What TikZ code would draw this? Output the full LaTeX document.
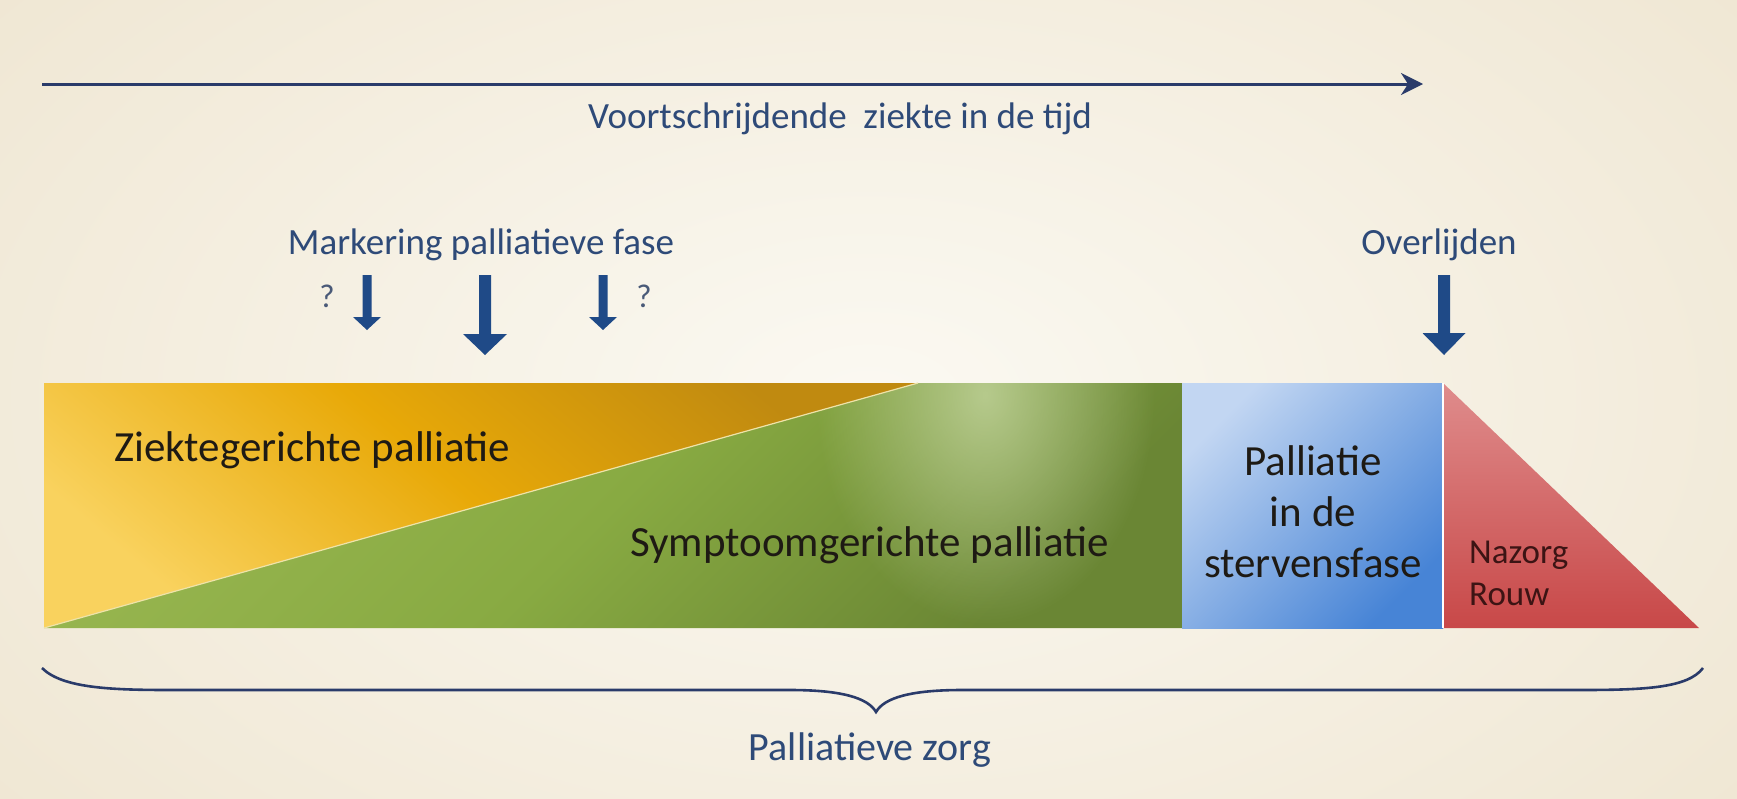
\documentclass[tikz,border=0pt]{standalone}
\usepackage{fontspec}
\setmainfont{Carlito}
\usetikzlibrary{arrows.meta,fadings}
\definecolor{bgin}{HTML}{FBF9F2}
\definecolor{bgout}{HTML}{EFE6D2}
\definecolor{navyline}{HTML}{2A3B6A}
\definecolor{arrowblue}{HTML}{1F4A87}
\definecolor{labelblue}{HTML}{2E4A78}
\definecolor{qblue}{HTML}{4A5A78}
\definecolor{ylight}{HTML}{F9D25E}
\definecolor{ymid}{HTML}{E8A908}
\definecolor{ydark}{HTML}{C08A10}
\definecolor{glight}{HTML}{98B650}
\definecolor{gmid}{HTML}{88AA42}
\definecolor{gdark}{HTML}{6A8634}
\definecolor{gglow}{HTML}{CBDBA8}
\definecolor{blight}{HTML}{C2D6F2}
\definecolor{bdark}{HTML}{4784D6}
\definecolor{rlight}{HTML}{DF8C8C}
\definecolor{rdark}{HTML}{C84848}
\definecolor{bartext}{HTML}{1E1A14}
\definecolor{redtext}{HTML}{3C1414}
\definecolor{seam}{HTML}{EFE3A8}
\tikzfading[name=glowfade, inner color=transparent!0, outer color=transparent!100]
\tikzset{
  pics/blockarr/.style n args={4}{code={
    \fill[arrowblue] (-#1/2,0) -- (#1/2,0) -- (#1/2,#3) -- (#2/2,#3) -- (0,#4)
      -- (-#2/2,#3) -- (-#1/2,#3) -- cycle;}},
  bluelabel/.style={font=\fontsize{37}{44}\selectfont, text=labelblue, inner sep=0pt},
  qmark/.style={font=\fontsize{33}{40}\selectfont, text=qblue, inner sep=0pt},
  bartextstyle/.style={font=\fontsize{43}{51}\selectfont, text=bartext, inner sep=0pt},
  nazorgstyle/.style={font=\fontsize{35}{42}\selectfont, text=redtext, inner sep=0pt},
  navystroke/.style={draw=navyline, line width=3pt},
}
\begin{document}
\begin{tikzpicture}[x=1pt,y=-1pt]
\useasboundingbox (0,0) rectangle (1737,798);
\shade[inner color=bgin, outer color=bgout] (-300,-300) rectangle (2037,1098);

% top time arrow
\coordinate (tstart) at (42,84);
\coordinate (tend) at (1423,84);
\draw[navystroke, -{Stealth[length=22pt,width=22pt,inset=7pt]}] (tstart) -- (tend);
\node[bluelabel] (prog) at (840,119) {Voortschrijdende\ \ ziekte in de tijd};

% markers
\node[bluelabel] (mark) at (481,245) {Markering palliatieve fase};
\node[qmark] (q1) at (327,296) {?};
\node[qmark] (q2) at (644,296) {?};
\pic at (367,275) {blockarr={9}{28}{42}{55}};
\pic at (485,275) {blockarr={12}{44}{59}{80}};
\pic at (603,275) {blockarr={9}{28}{42}{55}};
\node[bluelabel] (overl) at (1439,245) {Overlijden};
\pic at (1444,275) {blockarr={12}{43}{58}{80}};

% bar corners
\coordinate (bl) at (44,628);
\coordinate (tl) at (44,383);
\coordinate (apex) at (918,383);
\coordinate (gtr) at (1182,383);
\coordinate (gbr) at (1182,628);
\coordinate (btr) at (1443,383);
\coordinate (bbr) at (1443,628);
\coordinate (rtip) at (1699,628);

% yellow triangle
\shade[top color=ylight, bottom color=ydark, middle color=ymid, shading angle=140]
  (bl) -- (tl) -- (apex) -- cycle;
% green part
\shade[top color=glight, bottom color=gdark, middle color=gmid, shading angle=45]
  (bl) -- (apex) -- (gtr) -- (gbr) -- cycle;
\begin{scope}
  \clip (bl) -- (apex) -- (gtr) -- (gbr) -- cycle;
  \fill[gglow, opacity=0.75, path fading=glowfade] (985,395) ellipse [x radius=170pt, y radius=230pt];
\end{scope}
\draw[seam, line width=1.2pt] (bl) -- (apex);
% blue box
\shade[top color=blight, bottom color=bdark, shading angle=45] (gbr) rectangle (btr);
% red triangle
\shade[top color=rlight, bottom color=rdark] (btr) -- (bbr) -- (rtip) -- cycle;
\draw[white, line width=2pt] (btr) -- (bbr);

% texts in bar
\node[bartextstyle, anchor=west] (ziekte) at (114,450) {Ziektegerichte palliatie};
\node[bartextstyle, anchor=west] (sympt) at (630,545) {Symptoomgerichte palliatie};
\node[bartextstyle, align=center] (sterf) at (1313,512) {Palliatie\\in de\\stervensfase};
\node[nazorgstyle, anchor=west, align=left] (nazorg) at (1469,573) {Nazorg\\Rouw};

% brace
\coordinate (brl) at (42,668);
\coordinate (brtip) at (876,712);
\coordinate (brr) at (1703,668);
\draw[navystroke, line width=2.6pt] (brl) .. controls (62,688) and (110,690) .. (170,690)
  -- (790,690) .. controls (842,690) and (868,698) .. (brtip)
  .. controls (884,698) and (910,690) .. (962,690) -- (1580,690)
  .. controls (1645,690) and (1688,688) .. (brr);
\node[bluelabel, font=\fontsize{40}{48}\selectfont] (pz) at (870,750) {Palliatieve zorg};
\end{tikzpicture}
\end{document}
